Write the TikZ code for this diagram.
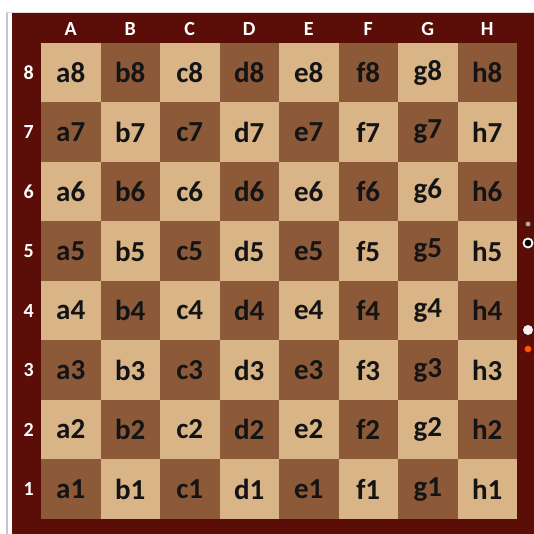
\documentclass[tikz,border=0pt]{standalone}
\usepackage{fontspec}
\setmainfont{Carlito}
\usetikzlibrary{positioning}
\definecolor{framered}{HTML}{5A0E07}
\definecolor{lightsq}{HTML}{D9B487}
\definecolor{darksq}{HTML}{8C5939}

\begin{document}
\begin{tikzpicture}[
            x=1pt, y=-1pt,
            square/.style={minimum size=59.5pt, inner sep=0pt, outer sep=0pt,
                           font=\fontsize{29}{29}\selectfont\bfseries, text=black!92},
            coordlabel/.style={inner sep=0pt, font=\fontsize{20}{20}\selectfont\bfseries, text=white},
            knob/.style={circle, inner sep=0pt}
      ]
      \useasboundingbox (0,0) rectangle (534,534);

      % Frame
      \draw[gray!45, line width=2pt] (7,12) -- (7,534);
      \draw[gray!25, line width=0.8pt] (7,12.4) -- (534,12.4);
      \fill[framered] (12,13) rectangle (534,534);

      % Squares
      \foreach \f/\F [count=\i] in {a/A,b/B,c/C,d/D,e/E,f/F,g/G,h/H} {
            \foreach \r in {1,...,8} {
                  \pgfmathtruncatemacro{\parity}{mod(\i+\r,2)}
                  \ifnum\parity=1 \def\shade{lightsq}\else\def\shade{darksq}\fi
                  \node[square, fill=\shade] (sq-\f\r) at ({41+(\i-0.5)*59.5}, {42.8+(8.5-\r)*59.5}) {\f\r};
            }
            \node[coordlabel] (file-\f) at ([yshift=13.8pt]sq-\f8.north) {\F};
      }

      % Ranks
      \foreach \r in {1,...,8}
            \node[coordlabel] (rank-\r) at ([xshift=-12.3pt]sq-a\r.west) {\r};

      % Knobs on the right edge
      \node[knob, fill=gray!70, minimum size=5pt] (knob1) at (528,224) {};
      \node[knob, draw=white, line width=1.8pt, fill=black, minimum size=9pt] (knob2) at (528,243) {};
      \node[knob, fill=white!90!gray, minimum size=10pt] (knob3) at (528,330) {};
      \node[knob, fill=orange!70!red, draw=red!70!black, minimum size=7pt] (knob4) at (528,349) {};
\end{tikzpicture}
\end{document}
